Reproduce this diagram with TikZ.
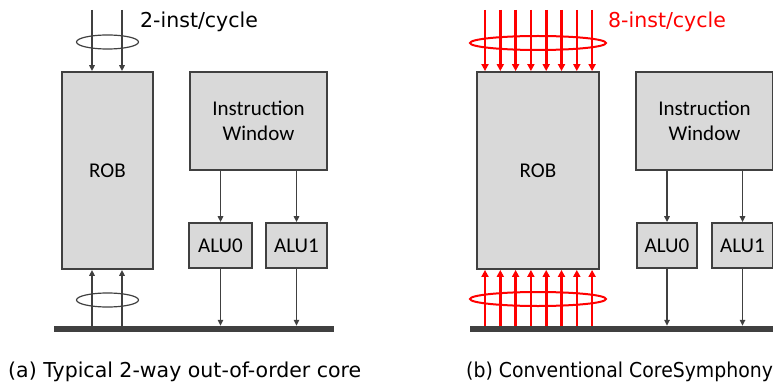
\documentclass[tikz,border=0pt]{standalone}
\usepackage{fontspec}
\setmainfont{DejaVu Sans}
\newfontfamily\boxfont{Carlito}
\newfontfamily\narrowfont[FakeStretch=0.92]{DejaVu Sans}
\usetikzlibrary{arrows.meta}
\definecolor{boxfill}{HTML}{D9D9D9}
\definecolor{inkgray}{HTML}{404040}
\begin{document}
\begin{tikzpicture}[x=1pt,y=-1pt,
  unit/.style={draw=inkgray, fill=boxfill, line width=1.8pt, inner sep=0pt,
    font=\boxfont\fontsize{21}{25}\selectfont, align=center},
  wire/.style={draw=inkgray, line width=1.4pt, -{Triangle[length=6pt,width=5.5pt]}},
  redwire/.style={draw=red, line width=2.6pt, -{Triangle[length=7pt,width=7pt]}},
  bus/.style={fill=inkgray, inner sep=0pt, minimum height=6pt},
  swirl/.style={draw=inkgray, line width=1.2pt},
  redswirl/.style={draw=red, line width=2pt},
  note/.style={font=\fontsize{20.5}{24}\selectfont, anchor=west, inner sep=0pt},
  caption/.style={font=\fontsize{20.5}{24}\selectfont, anchor=base west, inner sep=0pt}]
\clip (0,0) rectangle (773,385);
\useasboundingbox (0,0) rectangle (773,385);

% ---------- (a) 2-way core ----------
\node[unit, minimum width=91pt, minimum height=197pt] (robA) at (107.5,170.5) {ROB};
\node[unit, minimum width=137pt, minimum height=98pt] (iwA) at (258.5,121) {Instruction\\Window};
\node[unit, minimum width=63pt, minimum height=45pt] (aluA0) at (220.5,245.5) {ALU0};
\node[unit, minimum width=61pt, minimum height=45pt] (aluA1) at (296.5,245.5) {ALU1};
\node[bus, minimum width=280pt] (busA) at (194,329) {};

\draw[swirl] (107.5,42) ellipse (31pt and 7pt);
\draw[swirl] (107.5,300) ellipse (31pt and 7pt);
\foreach \x [count=\i] in {92,122} {
  \coordinate (inA\i) at (\x,10);
  \draw[wire] (inA\i) -- (inA\i |- robA.north);
  \draw[wire] (busA.north -| inA\i) -- (inA\i |- robA.south);
}
\draw[wire] (aluA0 |- iwA.south) -- (aluA0.north);
\draw[wire] (aluA1 |- iwA.south) -- (aluA1.north);
\draw[wire] (aluA0.south) -- (aluA0 |- busA.north);
\draw[wire] (aluA1.south) -- (aluA1 |- busA.north);

\node[note] (rateA) at (140,22) {2-inst/cycle};
\node[caption] (capA) at (8,377) {(a) Typical 2-way out-of-order core};

% ---------- (b) CoreSymphony ----------
\node[unit, minimum width=122pt, minimum height=197pt] (robB) at (538,170.5) {ROB};
\node[unit, minimum width=137pt, minimum height=98pt] (iwB) at (704.5,121) {Instruction\\Window};
\node[unit, minimum width=60pt, minimum height=45pt] (aluB0) at (667,245.5) {ALU0};
\node[unit, minimum width=61pt, minimum height=45pt] (aluB1) at (742.5,245.5) {ALU1};
\node[bus, minimum width=320pt] (busB) at (630,329) {};

\draw[redswirl] (538,43) ellipse (68pt and 7pt);
\draw[redswirl] (538,299) ellipse (68pt and 7pt);
\foreach \k in {0,...,7} {
  \coordinate (inB\k) at (485+\k*15.3,10);
  \draw[redwire] (inB\k) -- (inB\k |- robB.north);
  \draw[redwire] (busB.north -| inB\k) -- (inB\k |- robB.south);
}
\draw[wire] (aluB0 |- iwB.south) -- (aluB0.north);
\draw[wire] (aluB1 |- iwB.south) -- (aluB1.north);
\draw[wire] (aluB0.south) -- (aluB0 |- busB.north);
\draw[wire] (aluB1.south) -- (aluB1 |- busB.north);

\node[note, text=red] (rateB) at (608,22) {8-inst/cycle};
\node[caption, font=\narrowfont\fontsize{20.5}{24}\selectfont] (capB) at (466,377) {(b) Conventional CoreSymphony};
\end{tikzpicture}
\end{document}
